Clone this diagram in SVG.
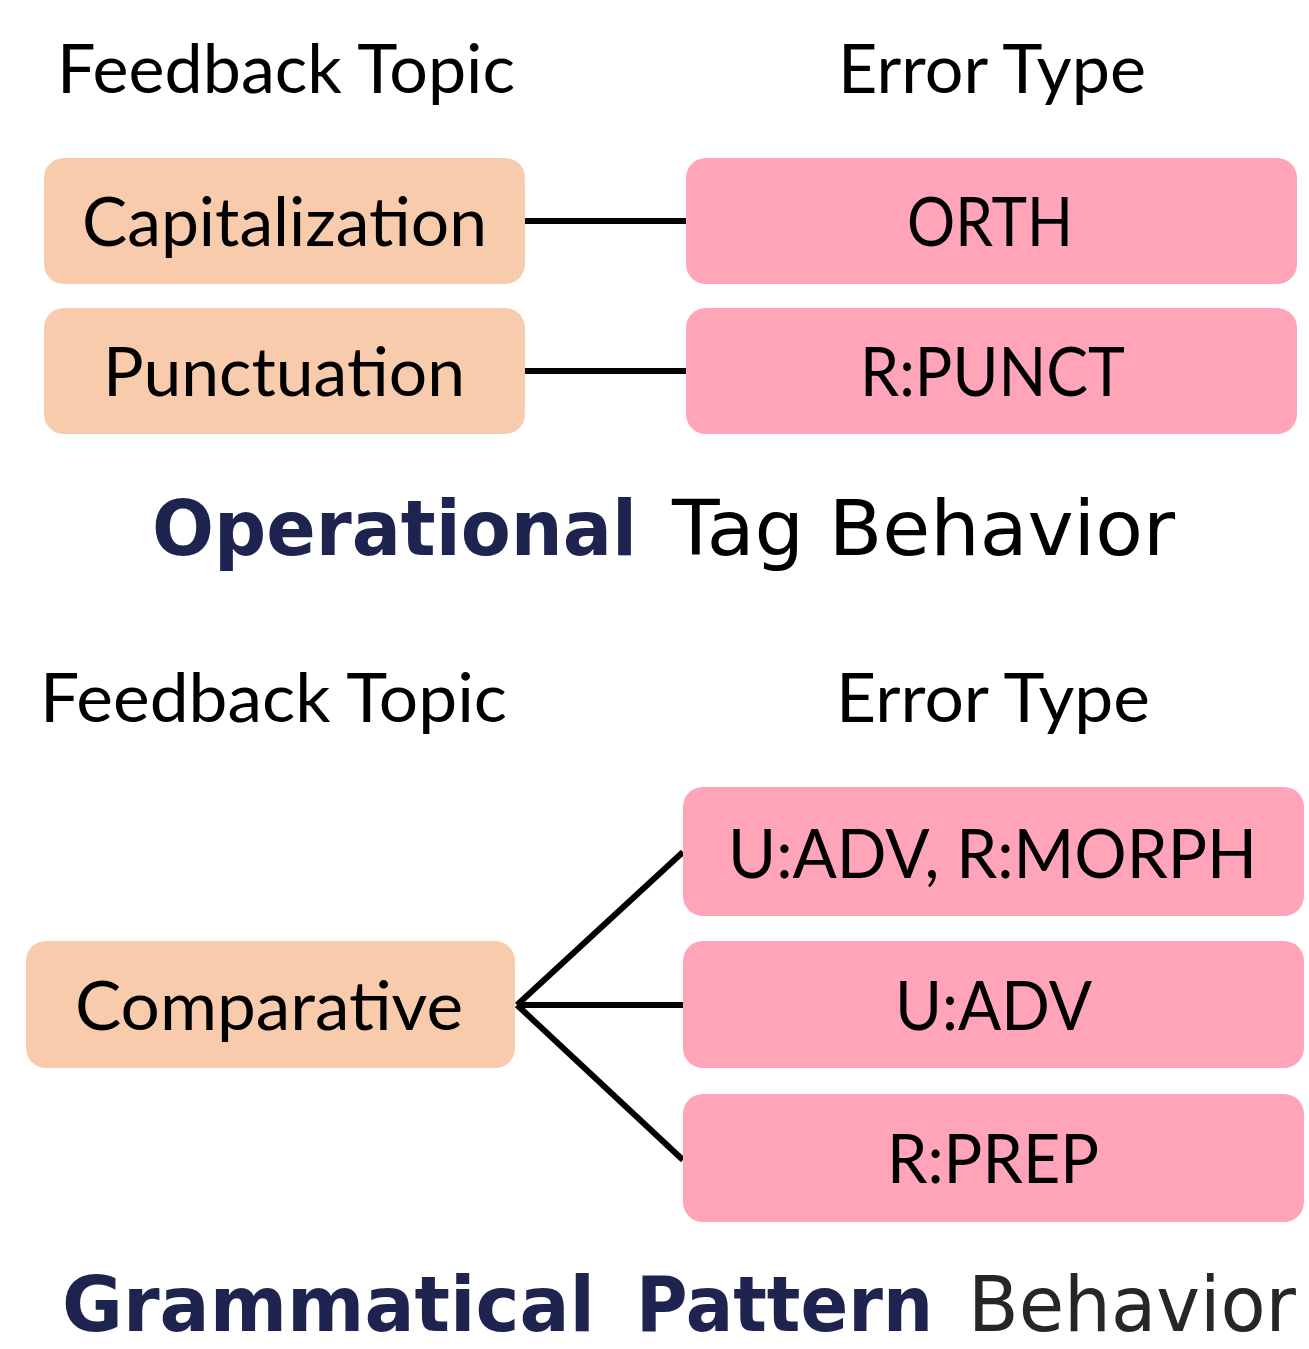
<svg xmlns="http://www.w3.org/2000/svg" width="1309" height="1349" viewBox="0 0 1309 1349">
<style>
.topic{fill:#F8CBAD}
.err{fill:#FFA4B9}
.t{font-family:Lato,"Open Sans","Liberation Sans",sans-serif;fill:#000;font-size:68px}
.title{font-family:"DejaVu Sans",Verdana,sans-serif;font-size:76px}
.b{font-weight:bold;fill:#1F2350}
.conn{stroke:#000;stroke-width:6;fill:none}
</style>
<rect width="1309" height="1349" fill="#fff"/>
<g id="headers">
<text class="t" x="57" y="93" textLength="458" lengthAdjust="spacingAndGlyphs">Feedback Topic</text>
<text class="t" x="838" y="93" textLength="308" lengthAdjust="spacingAndGlyphs">Error Type</text>
<text class="t" x="40" y="722" textLength="467" lengthAdjust="spacingAndGlyphs">Feedback Topic</text>
<text class="t" x="836" y="722" textLength="314" lengthAdjust="spacingAndGlyphs">Error Type</text>
</g>
<g id="connectors">
<line class="conn" x1="525" y1="221" x2="686" y2="221"/>
<line class="conn" x1="525" y1="371" x2="686" y2="371"/>
<line class="conn" x1="517" y1="1005" x2="683" y2="852"/>
<line class="conn" x1="517" y1="1005" x2="683" y2="1005"/>
<line class="conn" x1="517" y1="1005" x2="683" y2="1160"/>
</g>
<g id="capitalization">
<rect class="topic" x="44" y="158" width="481" height="126" rx="20"/>
<text class="t" x="82" y="246" font-size="72" textLength="405" lengthAdjust="spacingAndGlyphs">Capitalization</text>
</g>
<g id="punctuation">
<rect class="topic" x="44" y="308" width="481" height="126" rx="20"/>
<text class="t" x="103" y="396" font-size="72" textLength="362" lengthAdjust="spacingAndGlyphs">Punctuation</text>
</g>
<g id="orth">
<rect class="err" x="686" y="158" width="611" height="126" rx="20"/>
<text class="t" x="907" y="246" font-size="72" textLength="166" lengthAdjust="spacingAndGlyphs">ORTH</text>
</g>
<g id="rpunct">
<rect class="err" x="686" y="308" width="611" height="126" rx="20"/>
<text class="t" x="860" y="396" font-size="72" textLength="265" lengthAdjust="spacingAndGlyphs">R:PUNCT</text>
</g>
<g id="title1">
<text class="title" x="152" y="555"><tspan class="b" textLength="485" lengthAdjust="spacingAndGlyphs">Operational</tspan><tspan x="672" fill="#000" textLength="503" lengthAdjust="spacingAndGlyphs">Tag Behavior</tspan></text>
</g>
<g id="comparative">
<rect class="topic" x="26" y="941" width="489" height="127" rx="20"/>
<text class="t" x="75" y="1030" font-size="72" textLength="388" lengthAdjust="spacingAndGlyphs">Comparative</text>
</g>
<g id="uadv-rmorph">
<rect class="err" x="683" y="787" width="621" height="129" rx="20"/>
<text class="t" x="728" y="878" font-size="72" textLength="529" lengthAdjust="spacingAndGlyphs">U:ADV, R:MORPH</text>
</g>
<g id="uadv">
<rect class="err" x="683" y="941" width="621" height="127" rx="20"/>
<text class="t" x="895" y="1030" font-size="72" textLength="197" lengthAdjust="spacingAndGlyphs">U:ADV</text>
</g>
<g id="rprep">
<rect class="err" x="683" y="1094" width="621" height="128" rx="20"/>
<text class="t" x="887" y="1183" font-size="72" textLength="212" lengthAdjust="spacingAndGlyphs">R:PREP</text>
</g>
<g id="title2">
<text class="title" x="62" y="1331" font-size="72"><tspan class="b" textLength="533" lengthAdjust="spacingAndGlyphs">Grammatical</tspan><tspan class="b" x="636" textLength="297" lengthAdjust="spacingAndGlyphs">Pattern</tspan><tspan x="968" fill="#262626" textLength="328" lengthAdjust="spacingAndGlyphs">Behavior</tspan></text>
</g>
</svg>
